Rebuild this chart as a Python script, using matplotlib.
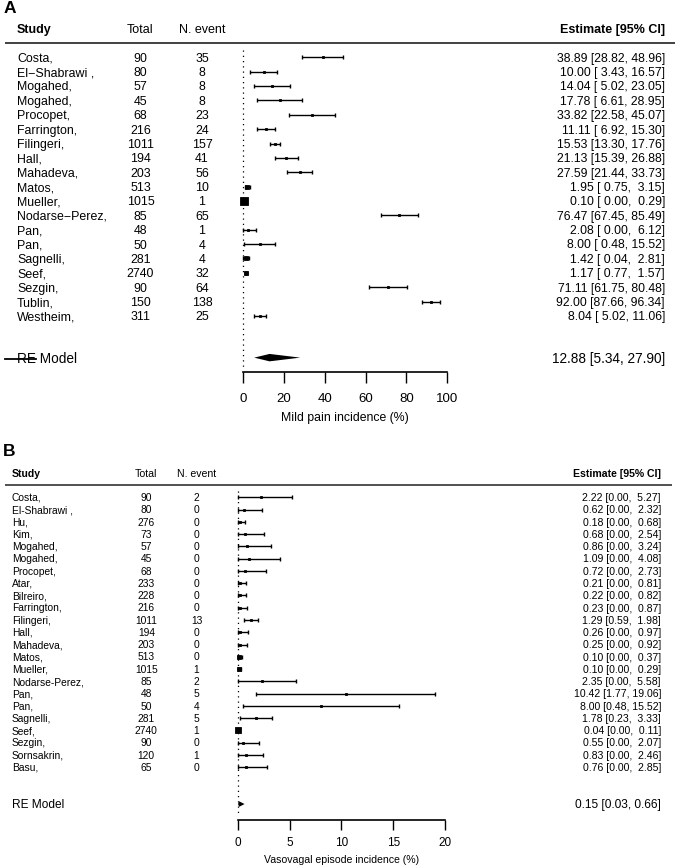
import numpy as np
import matplotlib
matplotlib.use("Agg")
import matplotlib.pyplot as plt
from matplotlib.transforms import blended_transform_factory, offset_copy

FONT = ["Liberation Sans", "DejaVu Sans"]
plt.rcParams["font.family"] = FONT

# ---------------- Panel A data: mild pain ----------------
a_study = ["Costa,", "El\u2212Shabrawi ,", "Mogahed,", "Mogahed,", "Procopet,",
           "Farrington,", "Filingeri,", "Hall,", "Mahadeva,", "Matos,", "Mueller,",
           "Nodarse\u2212Perez,", "Pan,", "Pan,", "Sagnelli,", "Seef,", "Sezgin,",
           "Tublin,", "Westheim,"]
a_total = [90, 80, 57, 45, 68, 216, 1011, 194, 203, 513, 1015, 85, 48, 50, 281, 2740, 90, 150, 311]
a_event = [35, 8, 8, 8, 23, 24, 157, 41, 56, 10, 1, 65, 1, 4, 4, 32, 64, 138, 25]
a_est = [38.89, 10.00, 14.04, 17.78, 33.82, 11.11, 15.53, 21.13, 27.59, 1.95, 0.10,
         76.47, 2.08, 8.00, 1.42, 1.17, 71.11, 92.00, 8.04]
a_lb = [28.82, 3.43, 5.02, 6.61, 22.58, 6.92, 13.30, 15.39, 21.44, 0.75, 0.00,
        67.45, 0.00, 0.48, 0.04, 0.77, 61.75, 87.66, 5.02]
a_ub = [48.96, 16.57, 23.05, 28.95, 45.07, 15.30, 17.76, 26.88, 33.73, 3.15, 0.29,
        85.49, 6.12, 15.52, 2.81, 1.57, 80.48, 96.34, 11.06]
a_re = (12.88, 5.34, 27.90)
a_ticks = [0, 20, 40, 60, 80, 100]
a_xlabel = "Mild pain incidence (%)"

# ---------------- Panel B data: vasovagal episode ----------------
b_study = ["Costa,", "El-Shabrawi ,", "Hu,", "Kim,", "Mogahed,", "Mogahed,", "Procopet,",
           "Atar,", "Bilreiro,", "Farrington,", "Filingeri,", "Hall,", "Mahadeva,",
           "Matos,", "Mueller,", "Nodarse-Perez,", "Pan,", "Pan,", "Sagnelli,",
           "Seef,", "Sezgin,", "Sornsakrin,", "Basu,"]
b_total = [90, 80, 276, 73, 57, 45, 68, 233, 228, 216, 1011, 194, 203, 513, 1015,
           85, 48, 50, 281, 2740, 90, 120, 65]
b_event = [2, 0, 0, 0, 0, 0, 0, 0, 0, 0, 13, 0, 0, 0, 1, 2, 5, 4, 5, 1, 0, 1, 0]
b_est = [2.22, 0.62, 0.18, 0.68, 0.86, 1.09, 0.72, 0.21, 0.22, 0.23, 1.29, 0.26,
         0.25, 0.10, 0.10, 2.35, 10.42, 8.00, 1.78, 0.04, 0.55, 0.83, 0.76]
b_lb = [0.00, 0.00, 0.00, 0.00, 0.00, 0.00, 0.00, 0.00, 0.00, 0.00, 0.59, 0.00,
        0.00, 0.00, 0.00, 0.00, 1.77, 0.48, 0.23, 0.00, 0.00, 0.00, 0.00]
b_ub = [5.27, 2.32, 0.68, 2.54, 3.24, 4.08, 2.73, 0.81, 0.82, 0.87, 1.98, 0.97,
        0.92, 0.37, 0.29, 5.58, 19.06, 15.52, 3.33, 0.11, 2.07, 2.46, 2.85]
b_re = (0.15, 0.03, 0.66)
b_ticks = [0, 5, 10, 15, 20]
b_xlabel = "Vasovagal episode incidence (%)"

# ---------------- layout ----------------
W, H, DPI = 677, 865, 100
fig = plt.figure(figsize=(W / DPI, H / DPI), dpi=DPI)
fig.patch.set_facecolor("white")


def draw_panel(study, total, event, est, lb, ub, re, ticks, xlabel, L):
    ax = fig.add_axes([0, 1 - L["axis_px"] / H, 1, (L["axis_px"] - L["top_px"]) / H])
    ax.set_xlim(-L["x0"] / L["xs"], (W - L["x0"]) / L["xs"])
    ax.set_ylim((L["axis_px"] - L["row0"]) / L["step"], (L["top_px"] - L["row0"]) / L["step"])
    ax.patch.set_visible(False)
    for s in ["top", "left", "right"]:
        ax.spines[s].set_visible(False)
    ax.spines["bottom"].set_bounds(ticks[0], ticks[-1])
    ax.spines["bottom"].set_linewidth(1.2)
    ax.set_yticks([])
    ax.set_xticks(ticks)
    ax.set_xticklabels([str(t) for t in ticks])
    ax.tick_params(axis="x", direction="out", length=L["tick_len"], width=1.0,
                   pad=L["tick_pad"], labelsize=L["tick_fs"])

    tr_text = blended_transform_factory(ax.transAxes, ax.transData)

    def rowtext(xpx, row, s, fs, ha, weight="normal"):
        t = offset_copy(tr_text, fig=fig, x=0, y=-0.358 * fs, units="points")
        ax.text(xpx / W, row, s, transform=t, ha=ha, va="baseline", fontsize=fs,
                fontweight=weight, clip_on=False)

    fs = L["fs"]
    hfs = L["hfs"]
    # header
    rowtext(L["study_px"], -2, "Study", hfs, "left", "bold")
    rowtext(L["total_px"], -2, "Total", hfs, "center")
    rowtext(L["event_px"], -2, "N. event", hfs, "center")
    rowtext(L["est_px"], -2, "Estimate [95% CI]", hfs, "right", "bold")
    ax.plot([L["hline"][0] / W, L["hline"][1] / W], [-1, -1], color="#333333",
            lw=L["hline_lw"], transform=tr_text, clip_on=False, solid_capstyle="butt")

    # weights for square sizes
    p = np.array(est) / 100.0
    n = np.array(total, dtype=float)
    vi = p * (1 - p) / n
    sw = np.sqrt(1.0 / vi)
    psize = 0.5 + (sw - sw.min()) / (sw.max() - sw.min())

    lw_w = max(len(f"{v:.2f}") for v in lb)
    uw_w = max(len(f"{v:.2f}") for v in ub)
    for i in range(len(study)):
        rowtext(L["study_px"], i, study[i], fs, "left")
        rowtext(L["total_px"], i, str(total[i]), fs, "center")
        rowtext(L["event_px"], i, str(event[i]), fs, "center")
        s = f"{est[i]:.2f} [{lb[i]:{lw_w}.2f}, {ub[i]:{uw_w}.2f}]"
        rowtext(L["est_px"], i, s, L["efs"], "right")
        ax.plot([lb[i], ub[i]], [i, i], color="black", lw=1.0, solid_capstyle="butt", zorder=2)
        ax.plot([lb[i], ub[i]], [i, i], ls="none", marker="|", ms=L["cap"], mew=1.0,
                color="black", zorder=2)
        ax.plot([est[i]], [i], ls="none", marker="s", ms=L["sq"] * psize[i], mew=0.6,
                color="black", zorder=3)

    # reference line
    ax.plot([0, 0], [-0.5, (L["axis_px"] - 5 - L["row0"]) / L["step"]], color="black",
            lw=0.9, dashes=(1, 3.2), zorder=1)

    # RE model
    r = L["re_row"]
    rfs = L["rfs"]
    rowtext(L["study_px"], r, "RE Model", rfs, "left")
    rowtext(L["est_px"], r, f"{re[0]:.2f} [{re[1]:.2f}, {re[2]:.2f}]", rfs, "right")
    h = L["dia_h"] / L["step"]
    ax.fill([re[1], re[0], re[2], re[0]], [r, r - h, r, r + h], color="black", lw=0, zorder=3)
    if L.get("strike"):
        x1, x2 = L["strike"]
        ax.plot([x1 / W, x2 / W], [r + 0.08, r + 0.08], color="black", lw=1.3,
                transform=tr_text, clip_on=False, zorder=5)

    # x label
    trx = blended_transform_factory(ax.transData, fig.transFigure)
    ax.text((ticks[0] + ticks[-1]) / 2, 1 - L["xlab_base"] / H, xlabel, transform=trx,
            ha="center", va="baseline", fontsize=L["xfs"])
    return ax


LA = dict(top_px=0, axis_px=372.3, row0=57.3, step=14.37, x0=243.3, xs=2.04,
          tick_len=7.6, tick_pad=7.4, tick_fs=9.5, fs=8.9, hfs=9.0, efs=8.8, rfs=9.8,
          xfs=8.8, study_px=17.0, total_px=140.5, event_px=202.0, est_px=665.0,
          hline=(5, 675), hline_lw=1.3, cap=3.4, sq=3.6, re_row=20.9, dia_h=3.7,
          strike=(5, 36), xlab_base=421.0)
LB = dict(top_px=440, axis_px=819.5, row0=497.3, step=12.27, x0=237.7, xs=10.37,
          tick_len=7.2, tick_pad=5.3, tick_fs=8.5, fs=7.4, hfs=7.6, efs=7.6, rfs=8.6,
          xfs=7.6, study_px=11.7, total_px=146.3, event_px=196.5, est_px=661.0,
          hline=(5, 672), hline_lw=1.2, cap=3.0, sq=3.0, re_row=25.0, dia_h=2.7,
          strike=None, xlab_base=863.0)

draw_panel(a_study, a_total, a_event, a_est, a_lb, a_ub, a_re, a_ticks, a_xlabel, LA)
draw_panel(b_study, b_total, b_event, b_est, b_lb, b_ub, b_re, b_ticks, b_xlabel, LB)

fig.text(3.3 / W, 1 - 8.5 / H, "A", fontsize=12.5, fontweight="bold", ha="left", va="center")
fig.text(2.7 / W, 1 - 451.2 / H, "B", fontsize=12.5, fontweight="bold", ha="left", va="center")

fig.savefig("out.png", dpi=DPI, facecolor="white")
